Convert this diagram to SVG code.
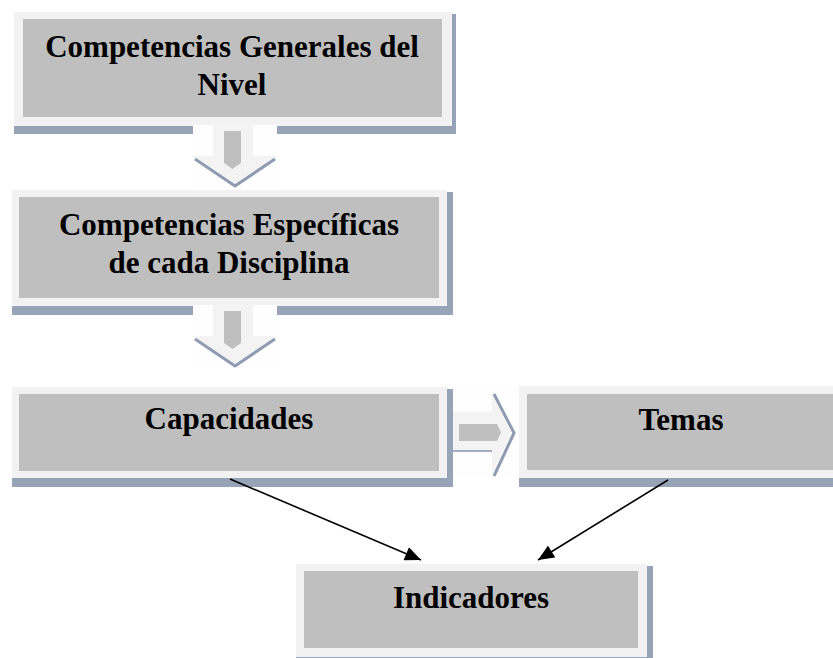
<svg xmlns="http://www.w3.org/2000/svg" width="833" height="658" viewBox="0 0 833 658">
<defs>
<style>
.sh{fill:#97a3b6}
.fr{fill:#f2f2f2}
.in{fill:#bfbfbf}
.t{font-family:"Liberation Serif","Times New Roman",serif;font-weight:bold;font-size:31px;fill:#000;text-anchor:middle}
.bg{fill:#fefefe}
.ar{fill:#f3f3f3}
.as{fill:none;stroke:#8f9bb0;stroke-width:3;stroke-linejoin:round}
.ai{fill:#bfbfbf}
.cn{stroke:#000;stroke-width:1.6;fill:none}
</style>
<marker id="ah" viewBox="0 0 10 10" refX="10" refY="5" markerWidth="10" markerHeight="9" markerUnits="userSpaceOnUse" orient="auto">
<path d="M0,0 L10,5 L0,10 z" fill="#000"/>
</marker>
<marker id="ahb" viewBox="0 0 16 14" refX="16" refY="7" markerWidth="17" markerHeight="14" markerUnits="userSpaceOnUse" orient="auto">
<path d="M0,0 L16,7 L0,14 z" fill="#000"/>
</marker>
</defs>
<rect width="833" height="658" fill="#fff"/>

<g id="node-generales">
<rect class="sh" x="14" y="14" width="442" height="120"/>
<rect class="fr" x="14" y="12" width="438" height="114"/>
<rect class="in" x="23" y="19" width="419" height="98"/>
<text class="t" x="232" y="57">Competencias Generales del</text>
<text class="t" x="232" y="95">Nivel</text>
</g>

<g id="node-especificas">
<rect class="sh" x="12" y="192" width="441" height="123"/>
<rect class="fr" x="12" y="190" width="435" height="116"/>
<rect class="in" x="19" y="197" width="420" height="101"/>
<text class="t" x="229" y="235">Competencias Específicas</text>
<text class="t" x="229" y="273">de cada Disciplina</text>
</g>

<g id="node-capacidades">
<rect class="sh" x="12" y="389" width="441" height="98"/>
<rect class="fr" x="12" y="387" width="435" height="91"/>
<rect class="in" x="19" y="394" width="420" height="77"/>
<text class="t" x="229" y="429">Capacidades</text>
</g>

<g id="node-temas">
<rect class="sh" x="519" y="388" width="330" height="99"/>
<rect class="fr" x="519" y="386" width="330" height="92"/>
<rect class="in" x="527" y="394" width="320" height="76"/>
<text class="t" x="681" y="430">Temas</text>
</g>

<g id="node-indicadores">
<rect class="sh" x="296" y="566" width="357" height="96"/>
<rect class="fr" x="296" y="564" width="351" height="93"/>
<rect class="in" x="304" y="571" width="334" height="77"/>
<text class="t" x="471" y="608">Indicadores</text>
</g>

<g id="connectors">
<g id="arrow-1">
<rect class="bg" x="193" y="125" width="84" height="63"/>
<polygon class="ar" points="213,125 253,125 253,156 277,156 235,184 193,156 213,156"/>
<polyline class="as" points="195,159 235,186 275,159"/>
<polygon class="ai" points="224,131 241,131 241,163 232.5,169 224,163"/>
</g>
<g id="arrow-2">
<rect class="bg" x="193" y="305" width="84" height="63"/>
<polygon class="ar" points="213,305 253,305 253,336 277,336 235,364 193,336 213,336"/>
<polyline class="as" points="195,339 235,366 275,339"/>
<polygon class="ai" points="224,311 241,311 241,343 232.5,349 224,343"/>
</g>
<g id="arrow-3">
<rect class="bg" x="453" y="388" width="65" height="90"/>
<polygon class="ar" points="453,412 492,412 492,393 511,433 492,475 492,452 453,452"/>
<line x1="453" y1="451" x2="492" y2="451" stroke="#a3aec0" stroke-width="2"/>
<polyline class="as" points="494,394 514,433 494,476"/>
<polygon class="ai" points="459,424 497,424 501,432.5 497,441 459,441"/>
</g>
<line class="cn" x1="230" y1="479" x2="421" y2="560" marker-end="url(#ahb)"/>
<line class="cn" x1="668" y1="480" x2="538" y2="560" marker-end="url(#ahb)"/>
</g>
</svg>
